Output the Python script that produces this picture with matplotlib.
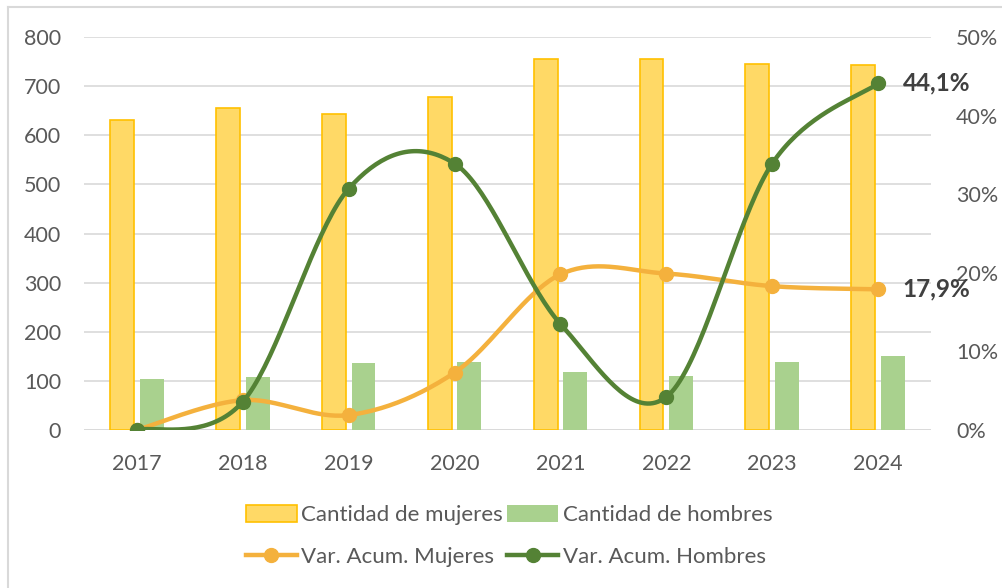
import numpy as np
import matplotlib
matplotlib.use('Agg')
import matplotlib.pyplot as plt
from matplotlib.lines import Line2D
from matplotlib.patches import Patch

years = ['2017', '2018', '2019', '2020', '2021', '2022', '2023', '2024']
mujeres = [631, 655, 643, 677, 756, 755, 746, 744]
hombres = [104, 108, 136, 139, 118, 109, 139, 150]
var_mujeres = [0.0, 3.8, 1.9, 7.3, 19.8, 19.9, 18.3, 17.9]
var_hombres = [0.0, 3.6, 30.7, 33.9, 13.5, 4.2, 33.9, 44.1]

YELLOW = '#FFD966'
YELLOW_EDGE = '#FFC000'
LGREEN = '#A9D18E'
ORANGE = '#F4B13D'
DGREEN = '#548235'
GRID = '#D9D9D9'
TXT = '#595959'

plt.rcParams['font.family'] = ['Lato', 'DejaVu Sans']


def smooth(xs, ys, n=40):
    # Excel style smoothed line: cubic bezier, control points from neighbours / 6
    P = np.column_stack([xs, ys]).astype(float)
    P = np.vstack([P[0], P, P[-1]])
    out = []
    t = np.linspace(0, 1, n)[:, None]
    for i in range(1, len(P) - 2):
        p0, p1, p2, p3 = P[i - 1], P[i], P[i + 1], P[i + 2]
        c1 = p1 + (p2 - p0) / 6.0
        c2 = p2 - (p3 - p1) / 6.0
        seg = ((1 - t) ** 3) * p1 + 3 * ((1 - t) ** 2) * t * c1 + 3 * (1 - t) * t ** 2 * c2 + t ** 3 * p2
        out.append(seg)
    out = np.vstack(out)
    return out[:, 0], out[:, 1]


fig = plt.figure(figsize=(10.03, 5.88), dpi=100)
ax = fig.add_axes([84 / 1003, 1 - 430 / 588, (931 - 84) / 1003, (430 - 37) / 588])
ax2 = ax.twinx()

x = np.arange(len(years))
bw = 0.225
ax.bar(x - 0.14, mujeres, bw, color=YELLOW, edgecolor=YELLOW_EDGE, linewidth=1.2, zorder=2)
ax.bar(x + 0.14, hombres, bw, color=LGREEN, edgecolor='none', zorder=2)

ax.set_ylim(0, 800)
ax.set_xlim(-0.5, len(years) - 0.5)
ax.set_yticks(range(0, 801, 100))
ax.yaxis.grid(True, color=GRID, linewidth=1.2, zorder=0)
ax.set_axisbelow(True)
ax.set_xticks(x)
ax.set_xticklabels(years)
for s in ax.spines.values():
    s.set_visible(False)
for s in ax2.spines.values():
    s.set_visible(False)
ax.tick_params(length=0, labelsize=15.5, labelcolor=TXT, pad=16.5)
ax.tick_params(axis='x', pad=17)

ax2.set_ylim(0, 50)
ax2.set_yticks(range(0, 51, 10))
ax2.set_yticklabels(['%d%%' % v for v in range(0, 51, 10)])
ax2.tick_params(length=0, labelsize=15.5, labelcolor=TXT, pad=18)

sx, sy = smooth(x, var_mujeres)
ax2.plot(sx, sy, color=ORANGE, linewidth=3.2, solid_capstyle='round', zorder=3)
ax2.plot(x, var_mujeres, 'o', color=ORANGE, markersize=10, zorder=4)
sx, sy = smooth(x, var_hombres)
ax2.plot(sx, sy, color=DGREEN, linewidth=3.2, solid_capstyle='round', zorder=5)
ax2.plot(x, var_hombres, 'o', color=DGREEN, markersize=10, zorder=6)

ax2.text(x[-1] + 0.23, var_hombres[-1], '44,1%', fontsize=17.5, fontweight='bold',
         color='#404040', va='center', ha='left')
ax2.text(x[-1] + 0.23, var_mujeres[-1], '17,9%', fontsize=17.5, fontweight='bold',
         color='#404040', va='center', ha='left')

# baseline
ax.axhline(0, color=GRID, linewidth=1.2, zorder=1)

handles = [
    Patch(facecolor=YELLOW, edgecolor=YELLOW_EDGE, linewidth=1.2),
    Line2D([], [], color=ORANGE, linewidth=3.2, marker='o', markersize=10),
    Patch(facecolor=LGREEN, edgecolor='none'),
    Line2D([], [], color=DGREEN, linewidth=3.2, marker='o', markersize=10),
]
labels = ['Cantidad de mujeres', 'Var. Acum. Mujeres',
          'Cantidad de hombres', 'Var. Acum. Hombres']
leg = fig.legend(handles, labels, ncol=2, loc='center', bbox_to_anchor=(509 / 1003, 1 - 536 / 588),
                 frameon=False, fontsize=16, handlelength=2.3, handleheight=0.8,
                 handletextpad=0.2, columnspacing=0.2, labelspacing=0.95)
for t in leg.get_texts():
    t.set_color(TXT)

# chart border (only left and top visible)
fig.add_artist(Line2D([8 / 1003, 8 / 1003], [0, 1 - 7 / 588], transform=fig.transFigure,
                      color=GRID, linewidth=1.5))
fig.add_artist(Line2D([8 / 1003, 1], [1 - 7 / 588, 1 - 7 / 588], transform=fig.transFigure,
                      color=GRID, linewidth=1.5))

fig.savefig('out.png', dpi=100, facecolor='white')
